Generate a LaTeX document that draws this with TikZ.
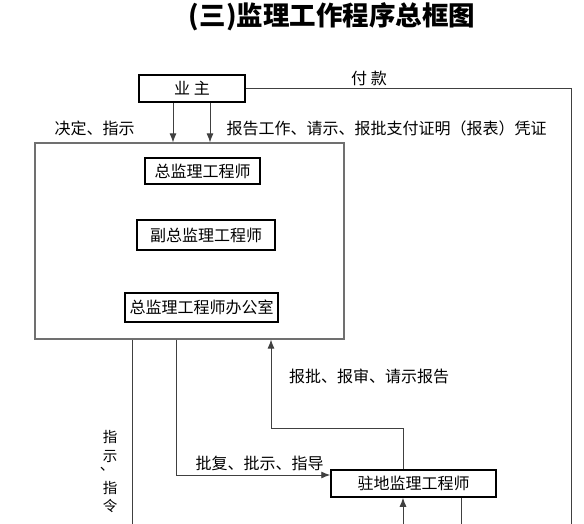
\documentclass[tikz,border=0pt]{standalone}
\usepackage{fontspec}
\setmainfont{Noto Sans CJK SC}
\usepackage{tikz}
\usetikzlibrary{arrows.meta}

\begin{document}
\begin{tikzpicture}[x=1pt,y=-1pt,
	box/.style={draw=black, line width=1.5pt, fill=white, inner sep=0pt, font=\fontsize{16pt}{16pt}\selectfont},
	link/.style={draw=custcol_40_40_40, line width=0.9pt},
	arr/.style={link, -{Latex[length=9pt,width=7pt]}},
	lbl/.style={inner sep=0pt, font=\fontsize{16pt}{16pt}\selectfont},
	vlbl/.style={inner sep=0pt, align=center, font=\fontsize{14.5pt}{18.5pt}\selectfont}]
	\definecolor{custcol_40_40_40}{RGB}{64, 64, 64}
	\definecolor{custcol_70_70_70}{RGB}{112, 112, 112}
	\useasboundingbox (0,0) rectangle (584,524);
	% title
	\node[inner sep=0pt, font=\fontsize{26.5pt}{26.5pt}\bfseries\selectfont] (title) at (332,17) {(三)监理工作程序总框图};
	% owner and supervision frame
	\node[box, minimum width=106pt, minimum height=27pt] (owner) at (192,88.5) {业 主};
	\node[draw=custcol_70_70_70, line width=1.2pt, minimum width=309pt, minimum height=196pt, inner sep=0pt] (frame) at (189.5,241) {};
	\node[box, minimum width=115pt, minimum height=26pt] (chief) at (202.5,171) {总监理工程师};
	\node[box, minimum width=138pt, minimum height=30pt] (deputy) at (206,235) {副总监理工程师};
	\node[box, minimum width=153pt, minimum height=29pt] (office) at (201.5,307.5) {总监理工程师办公室};
	\node[box, minimum width=165pt, minimum height=27pt] (resident) at (413.5,483.5) {驻地监理工程师};
	% labels
	\node[lbl] (pay) at (369,78) {付 款};
	\node[lbl] (decide) at (94.5,128) {决定、指示};
	\node[lbl] (report) at (386.5,128) {报告工作、请示、报批支付证明（报表）凭证};
	\node[lbl] (approve) at (369,376) {报批、报审、请示报告};
	\node[lbl] (reply) at (259.5,463) {批复、批示、指导};
	\node[vlbl] (order1) at (110,446.5) {指\\示};
	\node[vlbl] (comma) at (107,469) {、};
	\node[vlbl] (order2) at (110,497) {指\\令};
	% helper coordinates
	\coordinate (xa) at (173,0);
	\coordinate (xb) at (210,0);
	\coordinate (payfoot) at (571,524);
	\coordinate (leftfoot) at (132,524);
	\coordinate (xm) at (176,0);
	\coordinate (turn) at (271,428);
	\coordinate (upfoot) at (403,524);
	\coordinate (rightfoot) at (461,524);
	% connectors
	\draw[arr] (owner.south -| xa) -- (frame.north -| xa);
	\draw[arr] (owner.south -| xb) -- (frame.north -| xb);
	\draw[link] (owner.east) -| (payfoot);
	\draw[link] (frame.south -| leftfoot) -- (leftfoot);
	\draw[arr] (frame.south -| xm) |- ([yshift=8.5pt]resident.west);
	\draw[arr] (resident.north -| upfoot) |- (turn) -- (frame.south -| turn);
	\draw[arr] (upfoot) -- (resident.south -| upfoot);
	\draw[link] (resident.south -| rightfoot) -- (rightfoot);
\end{tikzpicture}
\end{document}
